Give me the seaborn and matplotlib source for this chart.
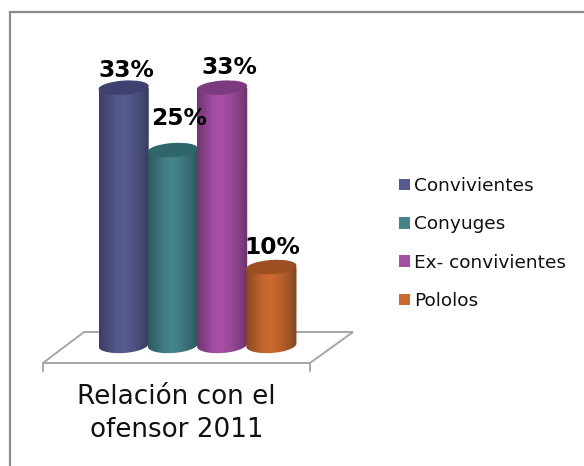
import numpy as np
import pandas as pd
import seaborn as sns
import matplotlib.pyplot as plt
from matplotlib.colors import LinearSegmentedColormap, to_rgb
from matplotlib.lines import Line2D
from matplotlib.patches import Ellipse, Patch, PathPatch, Polygon
from matplotlib.path import Path
from matplotlib.transforms import IdentityTransform

categories = ['Convivientes', 'Conyuges', 'Ex- convivientes', 'Pololos']
values = [33, 25, 33, 10]
labels = ['33%', '25%', '33%', '10%']
colors = ['#565a90', '#43838a', '#a64fa6', '#cc6a30']
top_colors = ['#3f4270', '#2f666c', '#7c3a80', '#9c4f22']

W, H = 584, 466
sns.set_theme(style='white')
plt.rcParams['font.family'] = ['DejaVu Sans']

fig = plt.figure(figsize=(W / 100, H / 100), dpi=100, facecolor='white')

# axes placed in pixels, 7.8 px per percent
def px_box(x0, y0, x1, y1):
    return [x0 / W, 1 - y1 / H, (x1 - x0) / W, (y1 - y0) / H]

ax = fig.add_axes(px_box(99, 36, 296, 345), zorder=2)
df = pd.DataFrame({'cat': categories, 'val': values})
sns.barplot(data=df, x='cat', y='val', hue='cat', palette=colors, width=1.0,
            legend=False, ax=ax, saturation=1)
ax.set_xlim(-0.5, 3.5)
ax.set_ylim(0, 309 / 7.8)
ax.axis('off')
ax.patch.set_alpha(0)


def to_px(x, y):
    return x, H - y


# border of the chart area, top and left only
border = '#8c8c8c'
fig.add_artist(Line2D([9.5, 9.5, W], [0, H - 11.5, H - 11.5], transform=IdentityTransform(),
                      color=border, lw=1.6, solid_joinstyle='miter'))

# floor
floor = [(43, 363), (310, 363), (353, 332), (84, 332)]
fig.add_artist(Polygon([to_px(*p) for p in floor], closed=True, fc='white', ec='#a6a6a6',
                       lw=1.4, transform=IdentityTransform(), zorder=0.5))
for x in [43, 310]:
    fig.add_artist(Line2D([x, x], [H - 363, H - 371], transform=IdentityTransform(),
                          color='#a6a6a6', lw=1.4, zorder=0.5))

# cylinders on top of the seaborn bars
shade = [0.68, 0.82, 0.97, 1.0, 0.92, 0.8, 0.64]
fig.canvas.draw()
for i, bar in enumerate(ax.patches):
    x0, y0 = ax.transData.transform((bar.get_x(), 0))
    x1, y1 = ax.transData.transform((bar.get_x() + bar.get_width(), bar.get_height()))
    x0 -= 0.5
    x1 += 0.5
    cx = (x0 + x1) / 2
    w = x1 - x0
    z = 3 + i
    bar.set_visible(False)

    # side of cylinder: rectangle plus lower half of ellipse
    t = np.linspace(np.pi, 2 * np.pi, 30)
    a, b = w / 2, 8.0
    tilt = np.radians(4)
    ex = a * np.cos(t)
    ey = b * np.sin(t)
    bx = cx + ex * np.cos(tilt) - ey * np.sin(tilt)
    by = y0 + ex * np.sin(tilt) + ey * np.cos(tilt)
    verts = list(zip(bx, by)) + [(x1, y1), (x0, y1)]
    body = Path(verts + [verts[0]], closed=True)

    rgb = np.array(to_rgb(colors[i]))
    cmap = LinearSegmentedColormap.from_list('c', [tuple(rgb * s) for s in shade])
    im = ax.imshow(np.linspace(0, 1, 256).reshape(1, -1), cmap=cmap, aspect='auto',
                   extent=(x0, x1, y0 - 12, y1 + 2), transform=IdentityTransform(),
                   zorder=z, interpolation='bilinear')
    im.set_clip_box(fig.bbox)
    im.set_clip_path(PathPatch(body, transform=IdentityTransform()))

    # top of cylinder
    ax.add_patch(Ellipse((cx, y1), w, 14, angle=4, fc=top_colors[i], ec='none',
                         transform=IdentityTransform(), zorder=z + 0.5, clip_on=False))

ax.set_xlim(-0.5, 3.5)
ax.set_ylim(0, 309 / 7.8)

# data labels
offsets = [(3, 17), (6, 31), (7, 20), (1, 19)]
for i, lab in enumerate(labels):
    ax.annotate(lab, (i, values[i]), xytext=offsets[i], textcoords='offset pixels',
                ha='center', va='center', fontsize=16.8, fontweight='bold',
                color='black', zorder=20, annotation_clip=False)

# legend
handles = [Patch(fc=c, ec='none', label=n) for c, n in zip(colors, categories)]
fig.legend(handles=handles, loc='center left', bbox_to_anchor=(399 / W, 1 - 243.5 / H),
           frameon=False, fontsize=13.3, handlelength=0.6, handleheight=0.6,
           handletextpad=0.2, labelspacing=1.1, borderpad=0, borderaxespad=0,
           labelcolor='#111111')

# axis title
fig.text(176.5 / W, 1 - 413.5 / H, 'Relación con el\nofensor 2011', ha='center', va='center',
         fontsize=18.9, color='#111111', linespacing=1.32)

fig.savefig('out.png', dpi=100)
